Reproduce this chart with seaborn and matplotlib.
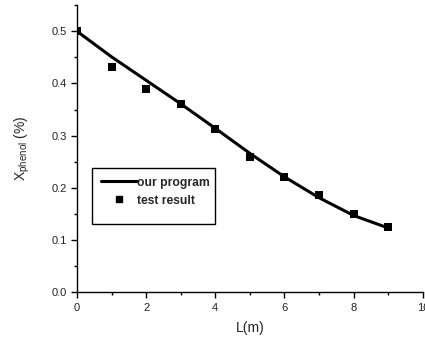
import matplotlib
matplotlib.use("Agg")
import matplotlib.pyplot as plt
import seaborn as sns
import pandas as pd
from matplotlib.ticker import MultipleLocator
from matplotlib.lines import Line2D
from matplotlib.patches import Rectangle

sns.set_style("ticks")
plt.rcParams['font.family'] = ['Liberation Sans', 'DejaVu Sans']

L_model = [0, 1, 2, 3, 4, 5, 6, 7, 8, 9]
x_model = [0.500, 0.451, 0.406, 0.361, 0.314, 0.266, 0.221, 0.181, 0.147, 0.123]
L_test = [0, 1, 2, 3, 4, 5, 6, 7, 8, 9]
x_test = [0.500, 0.431, 0.390, 0.360, 0.313, 0.260, 0.221, 0.187, 0.150, 0.125]

df_model = pd.DataFrame({"L": L_model, "X": x_model})
df_test = pd.DataFrame({"L": L_test, "X": x_test})

fig = plt.figure(figsize=(4.25, 3.43), dpi=100)
ax = fig.add_axes([0.181, 0.148, 0.814, 0.837])

sns.lineplot(data=df_model, x="L", y="X", ax=ax, color="black", linewidth=2.2)
sns.scatterplot(data=df_test, x="L", y="X", ax=ax, color="black", marker="s",
                s=36, edgecolor="black", linewidth=0, zorder=3)

ax.set_xlim(0, 10)
ax.set_ylim(0, 0.55)
ax.xaxis.set_minor_locator(MultipleLocator(1))
ax.yaxis.set_minor_locator(MultipleLocator(0.05))
ax.set_yticks([0.0, 0.1, 0.2, 0.3, 0.4, 0.5])
ax.set_yticklabels(["0.0", "0.1", "0.2", "0.3", "0.4", "0.5"])
ax.set_xticks([0, 2, 4, 6, 8, 10])
ax.set_xticklabels(["0", "2", "4", "6", "8", "10"])
ax.tick_params(axis="both", which="major", direction="out", length=4, width=1,
               labelsize=8, color="black", labelcolor="#222222")
ax.tick_params(axis="both", which="minor", direction="out", length=2.5, width=1, color="black")
for s in ["left", "bottom"]:
    ax.spines[s].set_color("black")
    ax.spines[s].set_linewidth(1)
sns.despine(ax=ax)

ax.set_xlabel("L(m)", fontsize=10, labelpad=6)
ax.set_ylabel(r"X$_{\mathregular{phenol}}$ (%)", fontsize=10, labelpad=14)

# legend frame
ax.add_patch(Rectangle((0.043, 0.238), 0.356, 0.195, transform=ax.transAxes,
                       facecolor="white", edgecolor="black", linewidth=1, zorder=4))
handles = [Line2D([0], [0], color="black", lw=2.2),
           Line2D([0], [0], color="black", marker="s", ls="none", markersize=5)]
leg = ax.legend(handles, ["our program", "test result"], loc="upper left",
                bbox_to_anchor=(0.043, 0.433),
                frameon=False, prop={"weight": "bold", "size": 8.7}, handlelength=3.0,
                handletextpad=0.05, borderpad=0.72, labelspacing=0.5, borderaxespad=0)
leg.set_zorder(5)

fig.savefig("out.png", dpi=100)
